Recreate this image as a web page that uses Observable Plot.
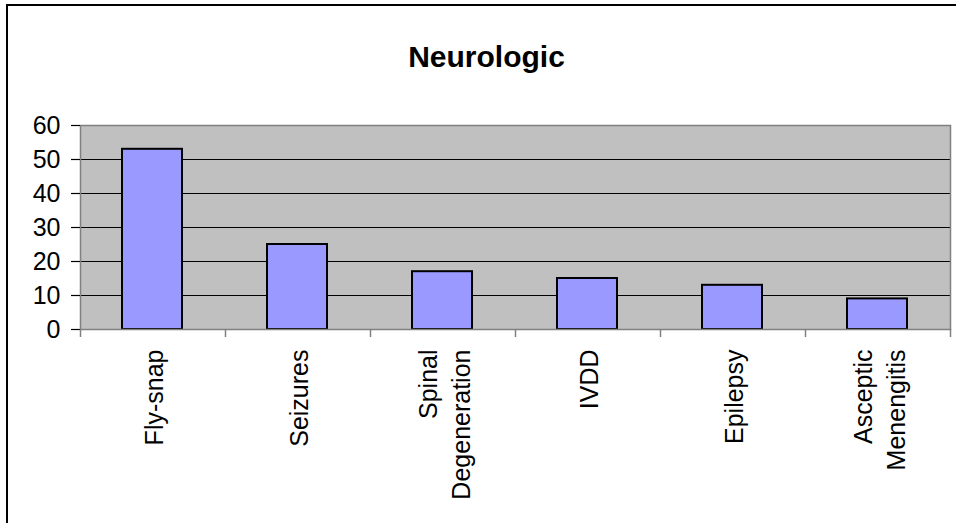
<!DOCTYPE html>
<html><head><meta charset="utf-8">
<script src="https://cdn.jsdelivr.net/npm/d3@7"></script>
<script src="https://cdn.jsdelivr.net/npm/@observablehq/plot@0.6"></script>
<style>
html,body{margin:0;padding:0;background:#fff;overflow:hidden;}
#wrap{position:relative;width:956px;height:523px;overflow:hidden;}
#border{position:absolute;left:6px;top:4px;width:1000px;height:600px;border:2px solid #000;pointer-events:none;}
</style></head><body><div id="wrap"><div id="chart"></div><div id="border"></div></div>
<script>
const title = "Neurologic";
const categories = ["Fly-snap", "Seizures", "Spinal Degeneration", "IVDD", "Epilepsy", "Asceptic Menengitis"];
const values = [53, 25, 17, 15, 13, 9];
const yTicks = [0, 10, 20, 30, 40, 50, 60];
const gridValues = [10, 20, 30, 40, 50];

const data = categories.map((c, i) => ({i, category: c, value: values[i]}));
const boundaries = d3.range(categories.length + 1);
const centers = categories.map((c, i) => i + 0.5);

const chart = Plot.plot({
  width: 956, height: 523,
  marginLeft: 80, marginRight: 6, marginTop: 125, marginBottom: 194,
  style: {fontFamily: "'Liberation Sans', Arial, sans-serif", fontSize: "25px", background: "transparent", color: "#000"},
  x: {domain: [0, categories.length], axis: null, label: null},
  y: {domain: [0, 60], axis: null, label: null},
  marks: [
    Plot.frame({fill: "#c0c0c0", stroke: null}),
    Plot.ruleY(gridValues, {stroke: "#000", strokeWidth: 1}),
    Plot.rect(data, {x1: d => d.i, x2: d => d.i + 1, y1: 0, y2: "value", insetLeft: 42, insetRight: 43, fill: "#9999ff", stroke: "#000", strokeWidth: 2}),
    Plot.frame({stroke: "#808080", strokeWidth: 1.5}),
    Plot.axisY(yTicks, {label: null, tickSize: 9, tickPadding: 11, fontSize: 25, stroke: "#000", strokeWidth: 1.2, tickFormat: d => String(d)}),
    Plot.axisX(boundaries, {label: null, tickSize: 8, stroke: "#808080", strokeWidth: 1.5, tickFormat: () => ""}),
    Plot.axisX(centers, {label: null, tickSize: 0, tickRotate: -90, tickPadding: 20, fontSize: 25, lineHeight: 1.3, tickFormat: v => categories[Math.floor(v)].replace(" ", "\n")}),
    Plot.text([title], {frameAnchor: "top", dx: -29, dy: -80, fontSize: 30, fontWeight: "bold", fill: "#000"})
  ]
});
document.getElementById("chart").appendChild(chart);
</script>
</body></html>
